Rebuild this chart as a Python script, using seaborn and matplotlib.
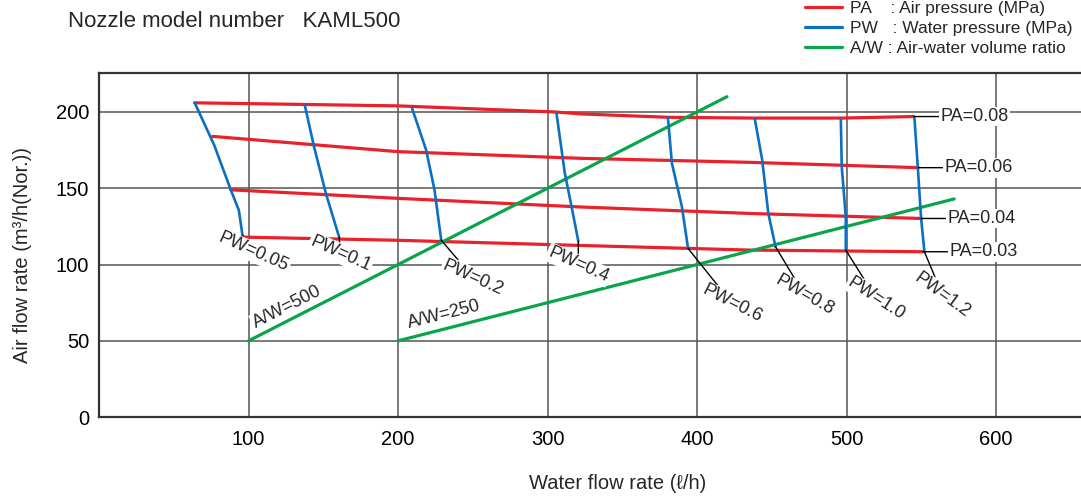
import pandas as pd
import numpy as np
import matplotlib
matplotlib.use("Agg")
import matplotlib.pyplot as plt
import seaborn as sns
from matplotlib.lines import Line2D

# ---- data ----
# PA (air pressure) curves: water flow rate vs air flow rate
pa_labels = ["PA=0.08", "PA=0.06", "PA=0.04", "PA=0.03"]
pa_water = [
    [64, 200, 305, 323, 381, 439, 497, 545],
    [76, 200, 323, 435, 548],
    [88, 200, 323, 435, 550],
    [96, 200, 323, 435, 551],
]
pa_air = [
    [206, 204, 200, 198.7, 196.5, 196, 196, 197],
    [184, 174, 169.6, 167, 163.5],
    [149, 143.4, 137.7, 133.5, 130.2],
    [118, 115.9, 112.5, 109.5, 108.4],
]

# PW (water pressure) curves
pw_labels = ["PW=0.05", "PW=0.1", "PW=0.2", "PW=0.4", "PW=0.6", "PW=0.8", "PW=1.0", "PW=1.2"]
pw_water = [
    [64, 77, 88, 93.5, 96],
    [137.6, 143.8, 151.7, 160.6],
    [209.4, 218.8, 224.4, 228.9],
    [306, 311.6, 316.1, 320.6],
    [380.5, 383.2, 389.9, 394],
    [438.7, 443.6, 447.7, 452.5],
    [496.2, 496.8, 499.5, 499.5],
    [545.4, 547.7, 549.9, 552.1],
]
pw_air = [
    [206, 178.4, 149.3, 135.7, 119],
    [204.6, 177.3, 146.8, 118],
    [202.4, 175.1, 148.9, 116],
    [199.1, 159.7, 137.9, 115.3],
    [196.5, 166.4, 137.9, 110.6],
    [195.2, 168.5, 133.5, 111.7],
    [195.2, 164.1, 131.3, 109.5],
    [196.5, 163.5, 130.2, 108.4],
]

# A/W (air-water volume ratio) lines
aw_labels = ["A/W=500", "A/W=250"]
aw_water = [[100, 420], [200, 572]]
aw_air = [[50, 210], [50, 143]]

RED = "#e8212b"
BLUE = "#0d6fbf"
GREEN = "#0aa54b"

sns.set_style("white")
plt.rcParams["font.family"] = ["Liberation Sans", "DejaVu Sans"]

fig = plt.figure(figsize=(10.81, 4.96), dpi=100)
ax = fig.add_axes([0.0916, 0.159, 0.91, 0.694])

# grid
for v in [100, 200, 300, 400, 500, 600]:
    ax.axvline(v, color="#555555", lw=1.1, zorder=0)
for v in [50, 100, 150, 200]:
    ax.axhline(v, color="#555555", lw=1.1, zorder=0)

# PA curves
for lab, xs, ys in zip(pa_labels, pa_water, pa_air):
    df = pd.DataFrame({"water": xs, "air": ys})
    sns.lineplot(data=df, x="water", y="air", color=RED, lw=2.3, sort=False,
                 estimator=None, ax=ax, zorder=3)
    ax.annotate(lab, xy=(xs[-1], ys[-1]), xytext=(19, 0), textcoords="offset points",
                ha="left", va="center", fontsize=13, zorder=6,
                bbox=dict(fc="white", ec="none", pad=1),
                arrowprops=dict(arrowstyle="-", color="black", lw=1, shrinkA=0, shrinkB=0))

# PW curves
pw_offsets = [(8, -12), (1, -12), (23, -27), (0, -17), (32, -40), (21, -35), (22, -35), (13, -31)]
pw_rot = [-24, -24, -24, -24, -27, -30, -33, -36]
for lab, xs, ys, off, rot in zip(pw_labels, pw_water, pw_air, pw_offsets, pw_rot):
    df = pd.DataFrame({"water": xs, "air": ys})
    sns.lineplot(data=df, x="water", y="air", color=BLUE, lw=1.9, sort=False,
                 estimator=None, ax=ax, zorder=4)
    ax.annotate(lab, xy=(xs[-1], ys[-1]), xytext=off, textcoords="offset points",
                ha="center", va="center", fontsize=13, rotation=rot, zorder=6,
                bbox=dict(fc="white", ec="none", pad=1),
                arrowprops=dict(arrowstyle="-", color="black", lw=1, shrinkA=0, shrinkB=0))

# A/W lines
aw_text_pos = [(126, 72), (231, 67)]
aw_rot = [27, 14]
for lab, xs, ys, pos, rot in zip(aw_labels, aw_water, aw_air, aw_text_pos, aw_rot):
    df = pd.DataFrame({"water": xs, "air": ys})
    sns.lineplot(data=df, x="water", y="air", color=GREEN, lw=2.3, sort=False,
                 estimator=None, ax=ax, zorder=3)
    ax.text(pos[0], pos[1], lab, ha="center", va="center", fontsize=13, rotation=rot,
            zorder=6, bbox=dict(fc="white", ec="none", pad=1))

ax.set_xlim(0, 658)
ax.set_ylim(0, 225.6)
ax.set_xticks([100, 200, 300, 400, 500, 600])
ax.set_yticks([0, 50, 100, 150, 200])
ax.tick_params(axis="both", length=0, labelsize=14.5, colors="black")
ax.tick_params(axis="x", pad=9)
ax.tick_params(axis="y", pad=7)

for s in ["left", "bottom", "top"]:
    ax.spines[s].set_color("#333333")
    ax.spines[s].set_linewidth(1.6)
ax.spines["right"].set_visible(False)

ax.set_xlabel("Water flow rate (ℓ/h)", fontsize=14.5)
ax.set_ylabel("Air flow rate (m³/h(Nor.))", fontsize=14.5)
ax.xaxis.set_label_coords(0.527, -0.165)
ax.yaxis.set_label_coords(-0.068, 0.47)

fig.text(0.063, 0.956, "Nozzle model number   KAML500", fontsize=16, va="center")

handles = [Line2D([], [], color=RED, lw=2.3), Line2D([], [], color=BLUE, lw=2.3),
           Line2D([], [], color=GREEN, lw=2.3)]
fig.legend(handles, ["PA    : Air pressure (MPa)", "PW   : Water pressure (MPa)",
                     "A/W : Air-water volume ratio"],
           loc="upper left", bbox_to_anchor=(0.745, 0.998), frameon=False, fontsize=12.5,
           handlelength=2.1, handletextpad=0.5, labelspacing=0.28, borderpad=0,
           borderaxespad=0)

fig.savefig("out.png", dpi=100)
